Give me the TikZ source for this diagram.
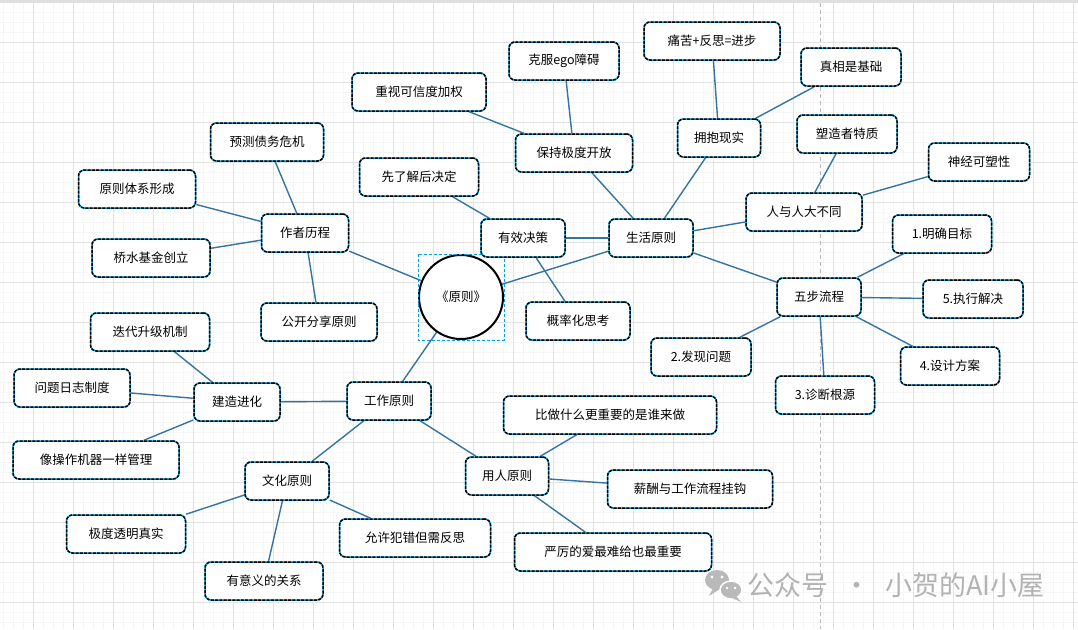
\documentclass[tikz,border=0pt]{standalone}
\usepackage{fontspec}
\setmainfont{Noto Sans CJK SC}
\usepackage{xcolor}
\usepackage{tikz}
\usetikzlibrary{positioning, calc, backgrounds}
\definecolor{linea}{RGB}{52,116,160}
\definecolor{seleccion}{RGB}{0,160,230}

\begin{document}
\begin{tikzpicture}[
  x=1pt, y=-1pt,
  caja/.style={
    rectangle, draw=black, line width=1.5pt,
    dash pattern=on 3pt off 1.3pt,
    rounded corners=6pt, minimum height=38,
    font=\fontsize{12.5}{15}\selectfont,
    preaction={fill=white, draw=seleccion, solid, line width=1.5pt}
  },
  circulo/.style={
    circle, draw=black, line width=2pt, fill=white,
    minimum size=84, font=\fontsize{12.5}{15}\selectfont
  },
  marco/.style={draw=seleccion, line width=0.8pt, dash pattern=on 3pt off 2pt},
  rel/.style={draw=linea, line width=1.4pt},
  menor/.style={draw=gray!7, line width=0.6pt},
  mayor/.style={draw=gray!22, line width=0.8pt}
]

\useasboundingbox (0,0) rectangle (1078,629);

% ── NODOS ────────────────────────────────────────────────────

\node[circulo] (libro) at (461,297) {《原则》};
\draw[marco] (libro.west |- libro.north) rectangle (libro.east |- libro.south);

% autor
\node[caja, minimum width=87]  (autor)       at (305,233) {作者历程};
\node[caja, minimum width=113] (deuda)       at (267,142) {预测债务危机};
\node[caja, minimum width=117] (sistema)     at (137,189) {原则体系形成};
\node[caja, minimum width=118] (bridgewater) at (151,258) {桥水基金创立};
\node[caja, minimum width=116] (compartir)   at (319,322) {公开分享原则};

% vida
\node[caja, minimum width=84]  (vida)         at (651,238) {生活原则};
\node[caja, minimum width=84]  (decidir)      at (523,238) {有效决策};
\node[caja, minimum width=119] (entender)     at (419,177) {先了解后决定};
\node[caja, minimum width=104] (probabilidad) at (578,321) {概率化思考};
\node[caja, minimum width=117] (apertura)     at (574,153) {保持极度开放};
\node[caja, minimum width=134] (credibilidad) at (419,92)  {重视可信度加权};
\node[caja, minimum width=110] (ego)          at (564,61)  {克服ego障碍};
\node[caja, minimum width=83]  (realidad)     at (719,138) {拥抱现实};
\node[caja, minimum width=136] (dolor)        at (712,41)  {痛苦+反思=进步};
\node[caja, minimum width=100] (verdad)       at (851,67)  {真相是基础};
\node[caja, minimum width=116] (diferentes)   at (804,212) {人与人大不同};
\node[caja, minimum width=100] (moldeador)    at (847,134) {塑造者特质};
\node[caja, minimum width=101] (plasticidad)  at (979,162) {神经可塑性};
\node[caja, minimum width=84]  (cinco)        at (819,297) {五步流程};
\node[caja, minimum width=99]  (paso1)        at (942,234) {1.明确目标};
\node[caja, minimum width=100] (paso2)        at (701,357) {2.发现问题};
\node[caja, minimum width=99]  (paso3)        at (825,395) {3.诊断根源};
\node[caja, minimum width=99]  (paso4)        at (950,366) {4.设计方案};
\node[caja, minimum width=100] (paso5)        at (973,299) {5.执行解决};

% trabajo
\node[caja, minimum width=84]  (trabajo)       at (389,401) {工作原则};
\node[caja, minimum width=86]  (evolucion)     at (237,402) {建造进化};
\node[caja, minimum width=119] (iterar)        at (150,332) {迭代升级机制};
\node[caja, minimum width=116] (registro)      at (72,388)  {问题日志制度};
\node[caja, minimum width=166] (maquina)       at (96,460)  {像操作机器一样管理};
\node[caja, minimum width=84]  (cultura)       at (287,481) {文化原则};
\node[caja, minimum width=119] (transparencia) at (126,534) {极度透明真实};
\node[caja, minimum width=118] (relaciones)    at (264,581) {有意义的关系};
\node[caja, minimum width=151] (errores)       at (415,538) {允许犯错但需反思};
\node[caja, minimum width=83]  (personas)      at (507,476) {用人原则};
\node[caja, minimum width=213] (quien)         at (610,415) {比做什么更重要的是谁来做};
\node[caja, minimum width=165] (sueldo)        at (690,489) {薪酬与工作流程挂钩};
\node[caja, minimum width=197] (amor)          at (613,552) {严厉的爱最难给也最重要};

% ── FONDO Y RELACIONES ────────────────────────────────────────

\begin{scope}[on background layer]
\fill[white] (0,0) rectangle (1078,629);
\foreach \x in {3,13,...,1078} \draw[menor] (\x,0) -- (\x,629);
\foreach \y in {2,12,...,629} \draw[menor] (0,\y) -- (1078,\y);
\foreach \x in {33,73,...,1078} \draw[mayor] (\x,0) -- (\x,629);
\foreach \y in {42,82,...,629} \draw[mayor] (0,\y) -- (1078,\y);
\fill[gray!25] (0,0) rectangle (1078,2.5);
\draw[gray!55, line width=0.8pt, dash pattern=on 4pt off 3pt] (820,3) -- (820,629);

\draw[rel] (libro)    -- (autor);
\draw[rel] (libro)    -- (vida);
\draw[rel] (libro)    -- (trabajo);

\draw[rel] (autor) -- (deuda);
\draw[rel] (autor) -- (sistema);
\draw[rel] (autor) -- (bridgewater);
\draw[rel] (autor) -- (compartir);

\draw[rel] (vida)     -- (decidir);
\draw[rel] (decidir)  -- (entender);
\draw[rel] (decidir)  -- (probabilidad);
\draw[rel] (vida)     -- (apertura);
\draw[rel] (apertura) -- (credibilidad);
\draw[rel] (apertura) -- (ego);
\draw[rel] (vida)     -- (realidad);
\draw[rel] (realidad) -- (dolor);
\draw[rel] (realidad) -- (verdad);
\draw[rel] (vida)     -- (diferentes);
\draw[rel] (diferentes) -- (moldeador);
\draw[rel] (diferentes) -- (plasticidad);
\draw[rel] (vida)     -- (cinco);
\draw[rel] (cinco)    -- (paso1);
\draw[rel] (cinco)    -- (paso2);
\draw[rel] (cinco)    -- (paso3);
\draw[rel] (cinco)    -- (paso4);
\draw[rel] (cinco)    -- (paso5);

\draw[rel] (trabajo)   -- (evolucion);
\draw[rel] (evolucion) -- (iterar);
\draw[rel] (evolucion) -- (registro);
\draw[rel] (evolucion) -- (maquina);
\draw[rel] (trabajo)   -- (cultura);
\draw[rel] (cultura)   -- (transparencia);
\draw[rel] (cultura)   -- (relaciones);
\draw[rel] (cultura)   -- (errores);
\draw[rel] (trabajo)   -- (personas);
\draw[rel] (personas)  -- (quien);
\draw[rel] (personas)  -- (sueldo);
\draw[rel] (personas)  -- (amor);
\end{scope}

% ── MARCA DE AGUA ─────────────────────────────────────────────

\fill[gray!55] (717,580) ellipse [x radius=12, y radius=10];
\fill[gray!55] (713,588) -- (709,596) -- (720,589) -- cycle;
\draw[gray!55, fill=gray!55, line width=1.5pt, draw=white] (731,590) ellipse [x radius=11, y radius=9];
\fill[gray!55] (736,596) -- (741,602) -- (732,598) -- cycle;
\fill[white] (712,577) circle (1.6) (722,577) circle (1.6) (727,588) circle (1.4) (735,588) circle (1.4);
\node[text=gray!60, font=\fontsize{27}{30}\selectfont, anchor=west, inner sep=0pt] (marca) at (747,585) {公众号\hspace{15pt}·\hspace{15pt}小贺的AI小屋};

\end{tikzpicture}
\end{document}
